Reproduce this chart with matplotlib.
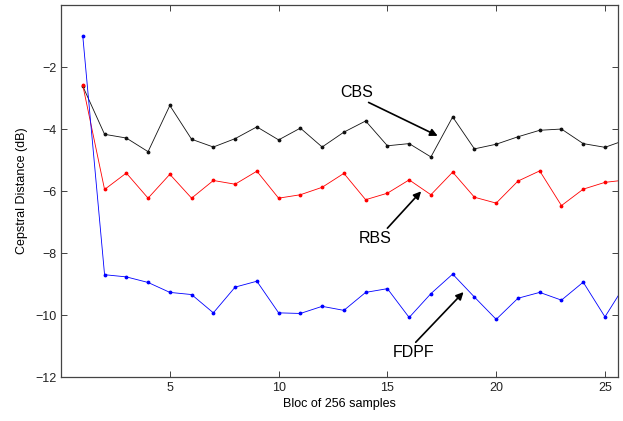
import matplotlib
matplotlib.use("Agg")
import matplotlib.pyplot as plt
import numpy as np

plt.rcParams['font.family'] = ['Liberation Sans', 'DejaVu Sans']

blocks = list(range(1, 27))
cbs = [-2.62, -4.17, -4.29, -4.73, -3.24, -4.33, -4.58, -4.31, -3.93, -4.35,
       -3.97, -4.58, -4.10, -3.74, -4.54, -4.47, -4.90, -3.61, -4.64, -4.49,
       -4.25, -4.04, -4.00, -4.47, -4.59, -4.34]
rbs = [-2.59, -5.95, -5.42, -6.23, -5.46, -6.23, -5.66, -5.78, -5.36, -6.23,
       -6.12, -5.88, -5.43, -6.28, -6.07, -5.64, -6.12, -5.39, -6.20, -6.39,
       -5.68, -5.35, -6.47, -5.94, -5.72, -5.64]
fdpf = [-1.01, -8.70, -8.77, -8.95, -9.27, -9.34, -9.93, -9.10, -8.91, -9.93,
        -9.95, -9.72, -9.85, -9.27, -9.15, -10.08, -9.31, -8.68, -9.42, -10.14,
        -9.46, -9.27, -9.52, -8.94, -10.06, -8.94]

xticks = [5, 10, 15, 20, 25]
yticks = [-12, -10, -8, -6, -4, -2]

fig = plt.figure(figsize=(6.23, 4.21), dpi=100)
ax = fig.add_axes([0.098, 0.1045, 0.894, 0.8835])

ax.plot(blocks, cbs, color='#111111', lw=0.6, marker='.', ms=3.5)
ax.plot(blocks, rbs, color='r', lw=0.6, marker='.', ms=3.5)
ax.plot(blocks, fdpf, color='b', lw=0.6, marker='.', ms=3.5)

ax.set_xlim(0, 25.6)
ax.set_ylim(-12, 0)
ax.set_xticks(xticks)
ax.set_yticks(yticks)
ax.tick_params(direction='in', top=True, right=True, labelsize=9, length=4, width=0.6, colors='#222222')
for s in ax.spines.values():
    s.set_color('#444444')
    s.set_linewidth(0.9)

ax.set_xlabel('Bloc of 256 samples', fontsize=9, labelpad=3)
ax.set_ylabel('Cepstral Distance (dB)', fontsize=9, labelpad=5)

ap = dict(arrowstyle='-|>', color='k', lw=1.2, mutation_scale=11, shrinkA=0, shrinkB=0)
ax.annotate('CBS', xy=(17.31, -4.22), xytext=(13.57, -2.81), fontsize=11.5,
            ha='center', va='center', arrowprops=dict(ap, relpos=(0.7, 0.0)))
ax.annotate('RBS', xy=(16.55, -6.01), xytext=(14.43, -7.53), fontsize=11.5,
            ha='center', va='center', arrowprops=dict(ap, relpos=(0.8, 1.0)))
ax.annotate('FDPF', xy=(18.5, -9.26), xytext=(16.18, -11.21), fontsize=11.5,
            ha='center', va='center', arrowprops=dict(ap, relpos=(0.5, 1.0)))

fig.savefig('out.png', dpi=100)
